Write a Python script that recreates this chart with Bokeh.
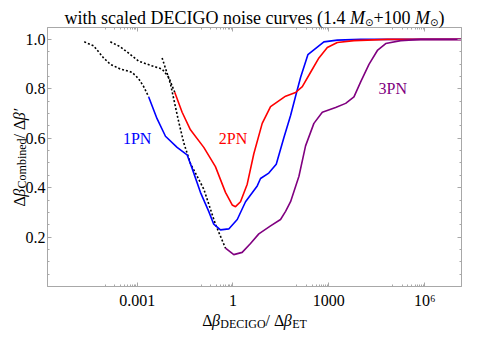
import math
from bokeh.plotting import figure
from bokeh.models import FixedTicker, CustomJSTickFormatter, LogAxis, LinearAxis, Label, Range1d
from bokeh.core.properties import value
from bokeh.embed import file_html
from bokeh.resources import INLINE

# ---------------- data ----------------
pn1_dotted_x = [2.21e-5, 4.33e-5, 8.9e-5, 1.45e-4, 2.97e-4, 6.9e-4, 1.11e-3, 1.60e-3, 2.30e-3]
pn1_dotted_y = [0.990, 0.974, 0.925, 0.899, 0.880, 0.867, 0.841, 0.809, 0.767]
pn1_x = [2.30e-3, 4.2e-3, 7.7e-3, 0.0178, 0.0366, 0.0526, 0.0957, 0.174, 0.250, 0.406, 0.738,
         1.36, 2.47, 5.74, 7.28, 13.2, 22.6, 39.1, 63.5, 91, 131, 221, 701, 1845, 9930, 2e7]
pn1_y = [0.767, 0.679, 0.608, 0.563, 0.533, 0.478, 0.381, 0.304, 0.252, 0.229, 0.233,
         0.271, 0.343, 0.407, 0.437, 0.459, 0.495, 0.602, 0.692, 0.770, 0.847, 0.938, 0.990, 0.997, 1.0, 1.0]

pn2_dotted_x = [1.45e-4, 2.97e-4, 5.42e-4, 1.11e-3, 2.59e-3, 6.04e-3, 9.7e-3, 0.0150]
pn2_dotted_y = [0.990, 0.970, 0.944, 0.912, 0.895, 0.880, 0.847, 0.786]
pn2_x = [0.0150, 0.0256, 0.0466, 0.122, 0.282, 0.582, 0.944, 1.20, 1.72, 2.79, 4.49, 8.22, 15.0,
         44.3, 91, 148, 269, 490, 897, 1845, 6120, 68200, 2e7]
pn2_y = [0.786, 0.705, 0.634, 0.563, 0.485, 0.381, 0.330, 0.323, 0.343, 0.414, 0.537, 0.660, 0.728,
         0.770, 0.785, 0.809, 0.867, 0.925, 0.967, 0.987, 0.995, 1.0, 1.0]

pn3_dotted_x = [6.04e-3, 0.0110, 0.0200, 0.0287, 0.0466, 0.122, 0.282, 0.582]
pn3_dotted_y = [0.925, 0.821, 0.666, 0.582, 0.498, 0.394, 0.252, 0.155]
pn3_x = [0.582, 1.06, 1.94, 3.54, 6.44, 15.0, 30.8, 44.3, 63.5, 116, 187, 341, 625, 1630, 3365,
         6120, 9930, 18070, 33100, 60400, 178000, 755000, 2e7]
pn3_y = [0.155, 0.129, 0.138, 0.174, 0.213, 0.245, 0.271, 0.304, 0.343, 0.446, 0.569, 0.660, 0.705,
         0.724, 0.741, 0.767, 0.828, 0.899, 0.955, 0.983, 0.995, 1.0, 1.0]

x_major_ticks = [1e-3, 1.0, 1e3, 1e6]
x_tick_labels = ["0.001", "1", "1000", "10\u2076"]
y_major_ticks = [0.2, 0.4, 0.6, 0.8, 1.0]
y_tick_labels = ["0.2", "0.4", "0.6", "0.8", "1.0"]

curve_labels = ["1PN", "2PN", "3PN"]
curve_label_x = [1e-3, 1.0, 1e5]
curve_label_y = [0.60, 0.60, 0.80]
colors = ["#0000ff", "#ff0000", "#800080"]

# ---------------- layout ----------------
W, H = 468, 330
BL, BR, BT, BB = 47, 7, 27, 44
LXMIN, LXMAX = -5.806, 7.153
YMAX = 1.048
SERIF = "Liberation Serif"
GRAY = "#a8a8a8"

p = figure(width=W, height=H, x_axis_type="log",
           x_range=Range1d(10 ** LXMIN, 10 ** LXMAX), y_range=Range1d(0, YMAX),
           output_backend="svg", toolbar_location=None,
           min_border_left=BL, min_border_right=BR, min_border_top=BT, min_border_bottom=BB)
p.title.visible = False
p.xgrid.visible = False
p.ygrid.visible = False
p.outline_line_color = GRAY
p.background_fill_color = "white"
p.border_fill_color = "white"

x_minor = [k * 10.0 ** (round(math.log10(t)) - 1) for t in x_major_ticks for k in range(1, 10)]
y_minor = [round(0.05 * i, 2) for i in range(1, 21)]

xt = FixedTicker(ticks=x_major_ticks, minor_ticks=x_minor)
yt = FixedTicker(ticks=y_major_ticks, minor_ticks=y_minor)

xfmt = CustomJSTickFormatter(args=dict(labs=x_tick_labels, majors=x_major_ticks), code="""
let best = 0, d = 1e9;
for (let i = 0; i < majors.length; i++) {
  const e = Math.abs(Math.log10(majors[i]) - Math.log10(tick));
  if (e < d) { d = e; best = i; }
}
return d < 0.01 ? labs[best] : "";
""")
yfmt = CustomJSTickFormatter(args=dict(labs=y_tick_labels, majors=y_major_ticks), code="""
for (let i = 0; i < majors.length; i++) {
  if (Math.abs(majors[i] - tick) < 1e-6) return labs[i];
}
return "";
""")
blank = CustomJSTickFormatter(code="return '';")


def style_axis(ax, ticker, fmt, standoff):
    ax.ticker = ticker
    ax.formatter = fmt
    ax.axis_line_color = GRAY
    ax.major_tick_line_color = GRAY
    ax.minor_tick_line_color = GRAY
    ax.major_tick_in = 4
    ax.major_tick_out = 0
    ax.minor_tick_in = 2
    ax.minor_tick_out = 0
    ax.major_label_text_font = SERIF
    ax.major_label_text_font_size = "16px"
    ax.major_label_text_color = "black"
    ax.major_label_standoff = standoff


style_axis(p.xaxis[0], xt, xfmt, 5)
style_axis(p.yaxis[0], yt, yfmt, 2)
top = LogAxis()
style_axis(top, xt, blank, 0)
top.major_label_text_font_size = "1px"
p.add_layout(top, "above")
right = LinearAxis()
style_axis(right, yt, blank, 0)
right.major_label_text_font_size = "1px"
p.add_layout(right, "right")

# ---------------- curves ----------------
for dx, dy in [(pn1_dotted_x, pn1_dotted_y), (pn2_dotted_x, pn2_dotted_y), (pn3_dotted_x, pn3_dotted_y)]:
    p.line(dx, dy, line_color="black", line_width=1.6, line_dash="2 2")
for cx, cy, col in [(pn1_x, pn1_y, colors[0]), (pn2_x, pn2_y, colors[1]), (pn3_x, pn3_y, colors[2])]:
    p.line(cx, cy, line_color=col, line_width=1.6)

for t, lx, ly, col in zip(curve_labels, curve_label_x, curve_label_y, colors):
    p.add_layout(Label(x=lx, y=ly, text=t, text_color=col, text_font=SERIF, text_font_size="16px",
                       text_align="center", text_baseline="middle"))

# ---------------- composite texts (title, axis labels) ----------------
FL, FR, FT, FB = BL, W - BR, BT, H - BB   # frame edges in canvas pixels


def X(px):
    return 10 ** (LXMIN + (px - FL) / (FR - FL) * (LXMAX - LXMIN))


def Y(py):
    return (FB - py) / (FB - FT) * YMAX


NW = {' ': 250, 'a': 444, 'b': 500, 'c': 444, 'd': 500, 'e': 444, 'f': 333, 'g': 500, 'h': 500,
      'i': 278, 'l': 278, 'm': 778, 'n': 500, 'o': 500, 'r': 333, 's': 389, 't': 278, 'u': 500,
      'v': 500, 'w': 722, 'y': 500, 'C': 667, 'D': 722, 'E': 611, 'G': 722, 'I': 333, 'M': 889,
      'O': 722, 'T': 611, '.': 250, '(': 333, ')': 333, '+': 564, '/': 278, '\u0394': 612}
IW = {'M': 833, '\u03b2': 520, '\u2032': 275}


def tw(text, size, kind):
    if kind == "sym":
        return 0.84 * size * len(text)
    tab = IW if kind == "i" else NW
    return sum(tab.get(c, NW.get(c, 500)) for c in text) * size / 1000.0


def place(parts, start, base, vertical=False):
    """parts: (text, size, kind, offset); kind n/i/sym; offset = shift below baseline"""
    pos = start
    for text, size, kind, off in parts:
        font = "DejaVu Sans" if kind == "sym" else SERIF
        style = "italic" if kind == "i" else "normal"
        w = tw(text, size, kind)
        if vertical:
            xx, yy, ang, bl = X(base + off), Y(pos), math.pi / 2, "alphabetic"
            pos -= w
        else:
            xx, yy, ang = X(pos), Y(base + off), 0.0
            bl = "middle" if kind == "sym" else "alphabetic"
            pos += w
        p.text(x=[xx], y=[yy], text=[text], angle=ang, text_font=value(font),
               text_font_size=value(f"{size}px"), text_font_style=value(style), text_color="black",
               text_align="left", text_baseline=bl, level="overlay")


def total(parts):
    return sum(tw(t, s, k) for t, s, k, o in parts)


title_parts = [("with scaled DECIGO noise curves (1.4 ", 18, "n", 0), ("M", 18, "i", 0),
               ("\u2299", 10, "sym", 4), ("+100 ", 18, "n", 0), ("M", 18, "i", 0),
               ("\u2299", 10, "sym", 4), (")", 18, "n", 0)]
xlab_parts = [("\u0394", 16, "n", 0), ("\u03b2", 16, "i", 0), ("DECIGO", 12, "n", 3),
              ("/ ", 16, "n", 0), ("\u0394", 16, "n", 0), ("\u03b2", 16, "i", 0), ("ET", 12, "n", 3)]
ylab_parts = [("\u0394", 16, "n", 0), ("\u03b2", 16, "i", 0), ("Combined", 12, "n", 2.5),
              ("/ ", 16, "n", 0), ("\u0394", 16, "n", 0), ("\u03b2\u2032", 16, "i", 0)]

cx = (FL + FR) / 2
cy = (FT + FB) / 2
place(title_parts, cx - total(title_parts) / 2, 17.5)
place(xlab_parts, cx - total(xlab_parts) / 2, 320)
place(ylab_parts, cy + total(ylab_parts) / 2, 19, vertical=True)

open("out.html", "w").write(file_html(p, INLINE))
